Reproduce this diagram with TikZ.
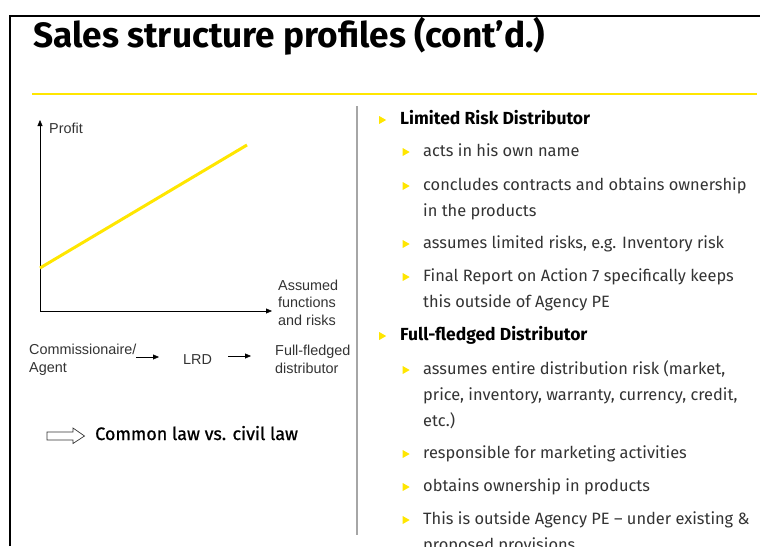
\documentclass[tikz,border=0pt]{standalone}
\usepackage{fontspec}
\setmainfont{Fira Sans}
\newfontfamily\arialfont{Liberation Sans}
\newfontfamily\medfont[FakeBold=0.8]{Fira Sans}
\usetikzlibrary{arrows.meta, shapes.geometric, positioning}
\definecolor{eyyellow}{HTML}{FFE600}
\definecolor{txtgray}{HTML}{333333}
\definecolor{rulegray}{HTML}{A6A6A6}

\tikzset{
  tip/.style={-{Triangle[length=6pt,width=5pt]}},
  bul/.style={isosceles triangle, isosceles triangle stretches, fill=eyyellow, inner sep=0pt, minimum width=8pt, minimum height=7pt},
  itm/.style={anchor=base west, inner sep=0pt, text=txtgray, font=\fontsize{16.4}{26}\selectfont},
  hdr/.style={anchor=base west, inner sep=0pt, text=black, font=\fontsize{17.5}{26}\selectfont\bfseries},
  lbl/.style={anchor=base west, inner sep=0pt, text=txtgray, font=\arialfont\fontsize{14.4}{17.2}\selectfont, align=left},
}

\begin{document}
\begin{tikzpicture}[x=1pt,y=-1pt]
\useasboundingbox (0,0) rectangle (760,546);
\clip (0,0) rectangle (760,546);

\draw[line width=2pt] (10,546) -- (10,16) -- (760,16);
\node[anchor=base west, inner sep=0pt, font=\fontsize{35.2}{40}\selectfont\bfseries] (title) at (33,47) {Sales structure profiles (cont'd.)};
\draw[eyyellow, line width=2pt] (32,94) -- (757,94);
\draw[rulegray, line width=1.2pt] (357,106) -- (357,535);

% chart
\coordinate (o) at (40,311);
\coordinate (ytop) at (40,120);
\coordinate (xend) at (272,311);
\draw[tip] (o) -- (ytop);
\draw[tip] (o) -- (xend);
\draw[eyyellow, line width=3pt] (40,268) -- (247,145);
\node[lbl] (profit) at (49,133) {Profit};
\node[lbl] (assumed) at (278,325) {Assumed\\functions\\and risks};

\node[lbl] (comm) at (29,372) {Commissionaire/\\Agent};
\node[lbl] (lrd) at (183,364) {LRD};
\node[lbl] (ffd) at (275,373) {Full-fledged\\distributor};
\coordinate (a1s) at (136,357);
\coordinate (a1e) at (159,357);
\coordinate (a2s) at (228,356);
\coordinate (a2e) at (251,356);
\draw[tip] (a1s) -- (a1e);
\draw[tip] (a2s) -- (a2e);

\draw[txtgray, line width=0.7pt] (47,432) -- (73,432) -- (73,428) -- (84.5,436) -- (73,443.5) -- (73,440) -- (47,440) -- cycle;
\node[anchor=base west, inner sep=0pt, text=black, font=\medfont\fontsize{18}{20}\selectfont] (law) at (95,440) {Common law vs. civil law};

% bullets
\node[bul] (b1) at (381.5,120) {};
\node[hdr] (h1) at (400,124) {Limited Risk Distributor};
\node[bul] (b11) at (405,152) {};
\node[itm] (t11) at (423,156) {acts in his own name};
\node[bul] (b12) at (405,186) {};
\node[itm] (t12) at (423,190) {concludes contracts and obtains ownership};
\node[itm] (t12b) at (423,216) {in the products};
\node[bul] (b13) at (405,244) {};
\node[itm] (t13) at (423,248) {assumes limited risks, e.g. Inventory risk};
\node[bul] (b14) at (405,277) {};
\node[itm] (t14) at (423,281) {Final Report on Action 7 specifically keeps};
\node[itm] (t14b) at (423,307) {this outside of Agency PE};

\node[bul] (b2) at (381.5,336) {};
\node[hdr] (h2) at (400,340) {Full-fledged Distributor};
\node[bul] (b21) at (405,370) {};
\node[itm] (t21) at (423,374) {assumes entire distribution risk (market,};
\node[itm] (t21b) at (423,400) {price, inventory, warranty, currency, credit,};
\node[itm] (t21c) at (423,426) {etc.)};
\node[bul] (b22) at (405,454) {};
\node[itm] (t22) at (423,458) {responsible for marketing activities};
\node[bul] (b23) at (405,487) {};
\node[itm] (t23) at (423,491) {obtains ownership in products};
\node[bul] (b24) at (405,520) {};
\node[itm] (t24) at (423,524) {This is outside Agency PE -- under existing \&};
\node[itm] (t24b) at (423,550) {proposed provisions};
\end{tikzpicture}
\end{document}
